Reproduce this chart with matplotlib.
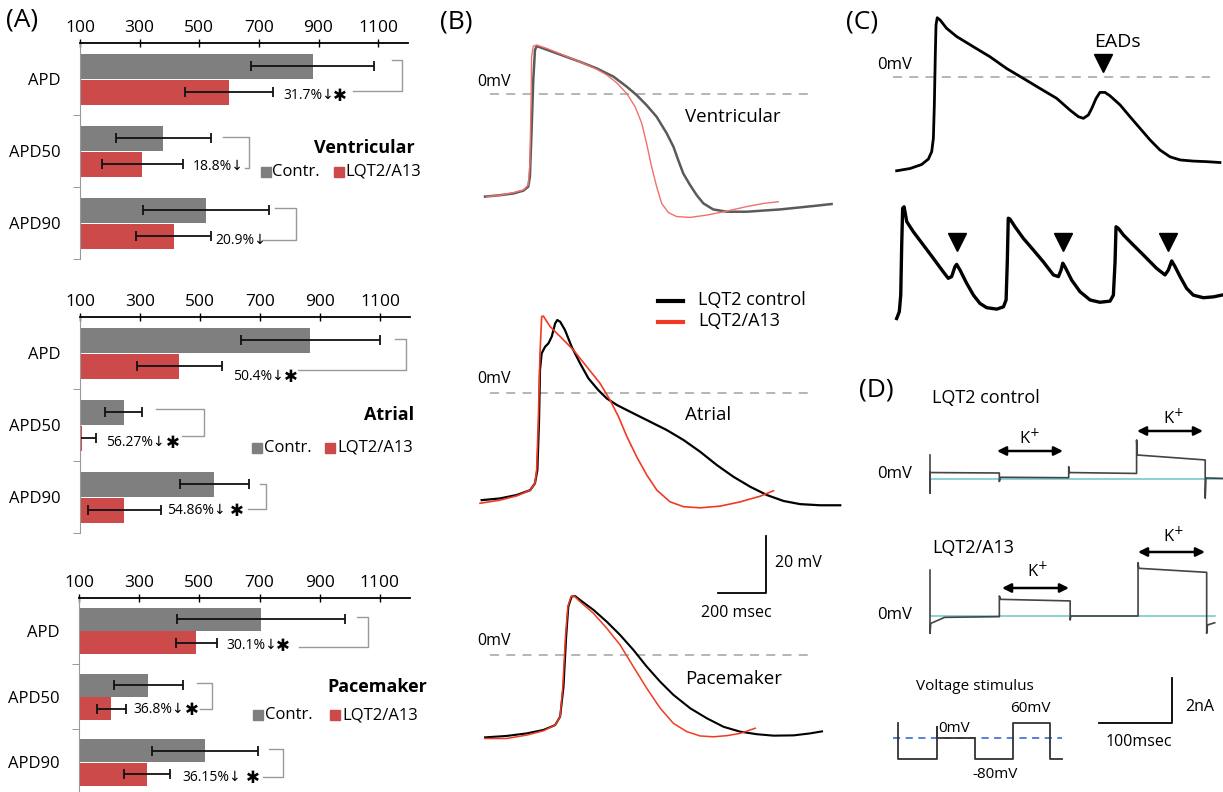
import matplotlib
matplotlib.use('Agg')
import matplotlib.pyplot as plt
import numpy as np

# ---------------- data ----------------
categories = ['APD', 'APD50', 'APD90']
x_ticks = [100, 300, 500, 700, 900, 1100]

vent_ctrl = [880, 380, 523]
vent_ctrl_err = [205, 160, 212]
vent_a13 = [600, 309, 414]
vent_a13_err = [148, 135, 127]
vent_pct = ['31.7%↓', '18.8%↓', '20.9%↓']
vent_sig = [True, False, False]

atr_ctrl = [868, 245, 548]
atr_ctrl_err = [233, 63, 116]
atr_a13 = [431, 107, 248]
atr_a13_err = [141, 46, 122]
atr_pct = ['50.4%↓', '56.27%↓', '54.86%↓']
atr_sig = [True, True, True]

pace_ctrl = [705, 330, 519]
pace_ctrl_err = [280, 115, 177]
pace_a13 = [490, 208, 326]
pace_a13_err = [68, 48, 78]
pace_pct = ['30.1%↓', '36.8%↓', '36.15%↓']
pace_sig = [True, True, True]

# Panel B action potentials (time ms, voltage mV relative to 0 mV line)
vent_ctrl_t = [21, 83, 139, 181, 201, 208, 215, 222, 229, 236, 250, 319, 417, 486, 556, 611, 653, 694, 736, 778, 806, 826, 847, 875, 903, 931, 972, 1028, 1111, 1250, 1389, 1465]
vent_ctrl_v = [-35.9, -35.4, -34.8, -33.8, -32.4, -28.9, -12.5, 5.0, 15.5, 16.9, 16.5, 14.4, 11.4, 9.1, 6.2, 2.7, -0.3, -3.8, -7.9, -13.7, -18.4, -23.1, -27.8, -31.8, -35.4, -38.3, -40.4, -41.2, -41.2, -40.4, -39.2, -38.5]
vent_a13_t = [28, 83, 139, 181, 201, 208, 213, 215, 222, 236, 278, 347, 417, 486, 528, 569, 611, 646, 674, 694, 715, 736, 757, 785, 819, 875, 944, 1028, 1111, 1181, 1243]
vent_a13_v = [-35.9, -35.4, -34.5, -33.6, -31.8, -24.2, -0.8, 13.2, 16.9, 17.3, 16.1, 13.8, 11.4, 8.8, 6.8, 4.1, 0.3, -4.3, -10.2, -17.2, -25.4, -32.4, -38.3, -41.5, -42.9, -43.2, -42.4, -41.0, -39.4, -38.3, -37.7]

atr_ctrl_t = [7, 83, 153, 209, 229, 239, 246, 250, 257, 271, 285, 299, 313, 322, 334, 354, 382, 417, 452, 493, 528, 570, 626, 695, 778, 848, 917, 987, 1056, 1126, 1195, 1265, 1334, 1418, 1501]
atr_ctrl_v = [-37.7, -37.1, -35.9, -34.2, -31.8, -27.1, -9.6, 8.0, 13.8, 16.1, 17.3, 19.7, 24.3, 25.5, 24.9, 22.0, 16.1, 10.3, 5.0, 0.9, -2.0, -4.3, -6.7, -9.6, -13.1, -16.6, -20.7, -25.4, -29.5, -33.0, -35.9, -38.0, -39.1, -39.5, -39.5]
atr_a13_t = [0, 83, 153, 209, 229, 236, 243, 250, 257, 264, 292, 334, 389, 445, 500, 542, 577, 612, 653, 695, 737, 792, 848, 917, 1001, 1084, 1168, 1223]
atr_a13_v = [-38.8, -37.7, -36.2, -34.2, -31.8, -27.1, -9.6, 13.8, 26.7, 26.9, 23.2, 19.7, 15.0, 9.1, 3.3, -2.6, -8.4, -15.4, -22.5, -28.9, -34.2, -38.3, -40.0, -40.4, -39.8, -38.3, -36.3, -34.4]

pace_ctrl_t = [21, 111, 195, 264, 313, 334, 348, 359, 368, 382, 396, 417, 473, 528, 584, 639, 695, 751, 806, 876, 945, 1015, 1084, 1154, 1223, 1307, 1376, 1425]
pace_ctrl_v = [-28.9, -28.4, -27.5, -26.3, -24.6, -21.6, -11.1, 6.4, 17.0, 20.5, 20.7, 19.3, 15.8, 11.7, 7.0, 1.8, -4.1, -9.4, -14.0, -18.7, -22.2, -25.2, -26.9, -27.8, -28.3, -28.2, -27.5, -26.8]
pace_a13_t = [21, 111, 195, 264, 313, 334, 345, 356, 366, 379, 392, 417, 473, 528, 584, 639, 695, 751, 806, 862, 917, 973, 1029, 1084, 1147]
pace_a13_v = [-29.3, -29.3, -28.1, -26.6, -24.6, -21.6, -11.1, 6.4, 17.0, 20.5, 20.7, 18.7, 14.6, 9.4, 3.5, -4.1, -11.7, -18.7, -24.0, -26.9, -28.4, -28.7, -28.3, -27.5, -25.7]

# Panel C EAD traces
ead1_t = [14, 70, 118, 146, 160, 167, 171, 175, 178, 183, 195, 222, 264, 334, 403, 472, 542, 611, 681, 736, 771, 792, 813, 827, 845, 861, 882, 903, 945, 986, 1028, 1070, 1111, 1153, 1195, 1250, 1306, 1361]
ead1_v = [-32.8, -32.0, -30.6, -28.7, -26.1, -21.4, -9.7, 7.8, 18.4, 20.9, 20.1, 17.2, 14.3, 10.7, 7.2, 3.1, -0.4, -3.9, -7.4, -11.5, -13.8, -14.4, -13.2, -10.9, -7.4, -5.3, -5.3, -6.5, -9.7, -13.8, -17.9, -22.0, -25.5, -27.9, -29.0, -29.4, -29.6, -29.9]
ead1_marks_t = [875]
ead1_marks_v = [4.9]

ead2_t = [14, 25, 31, 35, 39, 45, 56, 83, 125, 167, 208, 229, 243, 257, 264, 278, 306, 334, 361, 389, 431, 459, 470, 475, 479, 486, 507, 542, 584, 625, 667, 688, 699, 706, 715, 743, 778, 820, 861, 903, 917, 924, 928, 938, 959, 1000, 1042, 1097, 1132, 1146, 1160, 1174, 1195, 1222, 1250, 1292, 1334, 1368]
ead2_v = [-29.9, -27.5, -21.7, -4.1, 8.8, 9.3, 4.1, 0.6, -4.1, -8.8, -13.5, -15.8, -15.2, -11.7, -10.9, -12.9, -17.6, -21.7, -24.6, -26.1, -26.6, -25.8, -23.4, -10.0, 5.3, 5.0, 2.3, -1.8, -5.9, -10.0, -14.6, -15.2, -12.9, -10.5, -11.7, -16.4, -20.5, -23.4, -24.2, -23.8, -21.7, -10.0, 2.3, 1.7, -0.6, -4.1, -7.6, -12.3, -14.6, -12.9, -9.7, -11.7, -15.2, -19.3, -21.7, -22.6, -22.3, -21.7]
ead2_marks_t = [264, 708, 1146]
ead2_marks_v = [-2.9, -2.9, -2.9]

# Panel D currents (ms, nA)
ctrl_cur_t = [0, 0, 0, 1, 95, 95, 96, 97, 190, 190, 191, 283, 283, 284, 377, 377, 378, 402]
ctrl_cur_i = [1.08, -0.62, 0.30, 0.30, 0.28, -0.10, 0.06, 0.09, 0.07, 0.56, 0.30, 0.26, 1.75, 1.08, 0.86, -0.84, 0.06, 0.04]
a13_cur_t = [0, 0, 1, 20, 95, 95, 96, 97, 192, 192, 193, 285, 285, 286, 379, 379, 380, 390]
a13_cur_i = [2.04, -0.77, -0.33, -0.06, -0.03, 0.89, 0.80, 0.74, 0.67, -0.18, 0.0, 0.0, 2.37, 2.12, 1.94, -0.77, -0.40, -0.30]
stim_t = [0, 0, 52.5, 52.5, 52.5, 105, 105, 157, 157, 208, 208, 224]
stim_v = [60, -80, -80, 45, 0, 0, -80, -80, 60, 60, -80, -80]

# ---------------- figure ----------------
W, H = 1223, 792
plt.rcParams['font.family'] = ['Open Sans', 'DejaVu Sans']
fig = plt.figure(figsize=(W / 100, H / 100), dpi=100)

GREY = '#7f7f7f'
RED = '#cd4a4a'


def box(x0, y0, x1, y1):
    return [x0 / W, 1 - y1 / H, (x1 - x0) / W, (y1 - y0) / H]


ov = fig.add_axes([0, 0, 1, 1])
ov.set_xlim(0, W)
ov.set_ylim(H, 0)
ov.axis('off')


def bar_panel(rect, ctrl, ctrl_err, a13, a13_err):
    ax = fig.add_axes(box(*rect))
    ax.patch.set_alpha(0)
    y = np.arange(len(categories))
    h = 0.35
    ekw = dict(ecolor='#111111', elinewidth=1.3, capsize=3.5, capthick=1.3)
    ax.barh(y - 0.175, ctrl, height=h, color=GREY, xerr=ctrl_err, error_kw=ekw)
    ax.barh(y + 0.185, a13, height=h, color=RED, xerr=a13_err, error_kw=ekw)
    ax.set_xlim(100, 1200)
    ax.set_ylim(2.5, -0.5)
    ax.xaxis.tick_top()
    ax.set_xticks(x_ticks)
    ax.tick_params(axis='x', direction='inout', length=6, width=1, pad=2, labelsize=12.5)
    ax.set_yticks(y)
    ax.set_yticklabels(categories)
    ax.set_yticks([0.5, 1.5, 2.5], minor=True)
    ax.tick_params(axis='y', which='major', length=0, pad=14, labelsize=12)
    ax.tick_params(axis='y', which='minor', length=5, color='#888888', direction='out')
    for s in ['right', 'bottom']:
        ax.spines[s].set_visible(False)
    ax.spines['top'].set_linewidth(1.3)
    ax.spines['left'].set_color('#999999')
    return ax


bar_panel((80, 43, 408, 259), vent_ctrl, vent_ctrl_err, vent_a13, vent_a13_err)
bar_panel((80, 317, 410, 533), atr_ctrl, atr_ctrl_err, atr_a13, atr_a13_err)
bar_panel((79, 598, 410, 795), pace_ctrl, pace_ctrl_err, pace_a13, pace_a13_err)

# annotations panel A (pixel layout)
ann = [
    (vent_pct, vent_sig, [(283, 95, 340), (193, 166, 0), (215, 240, 0)],
     [(392, 60, 402, 91, 353), (223, 137, 249, 168, 245), (275, 208, 296, 240, 262)]),
    (atr_pct, atr_sig, [(233, 376, 291), (106, 442, 173), (167, 510, 237)],
     [(395, 339, 406, 370, 298), (156, 409, 204, 436, 182), (260, 484, 266, 509, 248)]),
    (pace_pct, pace_sig, [(226, 645, 283), (133, 709, 192), (182, 777, 253)],
     [(357, 617, 368, 647, 299), (197, 683, 212, 709, 200), (269, 749, 283, 777, 263)]),
]
for pcts, sigs, tpos, brs in ann:
    for p, s, (tx, ty, ax_), (xa, ya, xv, yb, xb) in zip(pcts, sigs, tpos, brs):
        ov.text(tx, ty, p, fontsize=10, va='center', ha='left')
        if s:
            ov.text(ax_, ty + 1, '✱', fontsize=12, va='center', ha='center',
                    family=['DejaVu Sans'])
        ov.plot([xa, xv, xv, xb], [ya, ya, yb, yb], color='#999999', lw=1)

legends = [('Ventricular', 415, 148, 172, 266, 272, 339, 345),
           ('Atrial', 414, 415, 448, 257, 264, 330, 337),
           ('Pacemaker', 427, 687, 715, 258, 265, 335, 342)]
for title, tr, ty, ly, gs, gt, rs, rt in legends:
    ov.text(tr, ty, title, fontsize=13, fontweight='bold', ha='right', va='center')
    ov.plot([gs], [ly], marker='s', ms=7, color=GREY)
    ov.text(gt, ly, 'Contr.', fontsize=12, va='center', ha='left')
    ov.plot([rs], [ly], marker='s', ms=7, color=RED)
    ov.text(rt, ly, 'LQT2/A13', fontsize=12, va='center', ha='left')


def trace_axes(x0, y0, x1, y1, ox, oy, sx, sy):
    ax = fig.add_axes(box(x0, y0, x1, y1))
    ax.set_xlim((x0 - ox) / sx, (x1 - ox) / sx)
    ax.set_ylim((oy - y1) / sy, (oy - y0) / sy)
    ax.axis('off')
    return ax


# ---------------- Panel B ----------------
SXB, SYB = 0.24, 2.85
dash_kw = dict(color='#b0b0b0', lw=1.3, ls=(0, (5, 4)))
axv = trace_axes(470, 30, 845, 250, 480, 94.3, SXB, SYB)
axv.plot([42, 1367], [0, 0], **dash_kw)
axv.plot(vent_ctrl_t, vent_ctrl_v, color='#5a5a5a', lw=1.8, solid_joinstyle='round')
axv.plot(vent_a13_t, vent_a13_v, color='#f07070', lw=1.0, solid_joinstyle='round')

axa = trace_axes(470, 280, 845, 540, 480, 392.7, SXB, SYB)
axa.plot([42, 1367], [0, 0], **dash_kw)
axa.plot(atr_ctrl_t, atr_ctrl_v, color='black', lw=1.6, solid_joinstyle='round')
axa.plot(atr_a13_t, atr_a13_v, color='#f03a24', lw=1.2, solid_joinstyle='round')

axp = trace_axes(470, 580, 845, 792, 480, 655, SXB, SYB)
axp.plot([42, 1367], [0, 0], **dash_kw)
axp.plot(pace_ctrl_t, pace_ctrl_v, color='black', lw=1.5, solid_joinstyle='round')
axp.plot(pace_a13_t, pace_a13_v, color='#f03a24', lw=1.1, solid_joinstyle='round')

ov.text(477, 82, '0mV', fontsize=11.5, va='center')
ov.text(477, 379, '0mV', fontsize=11.5, va='center')
ov.text(477, 641, '0mV', fontsize=11.5, va='center')
ov.text(685, 117, 'Ventricular', fontsize=13.5, va='center')
ov.text(685, 415, 'Atrial', fontsize=13.5, va='center')
ov.text(685, 679, 'Pacemaker', fontsize=13.5, va='center')
ov.plot([658, 683], [301, 301], color='black', lw=3)
ov.plot([658, 683], [322, 322], color='#f03a24', lw=3)
ov.text(698, 300, 'LQT2 control', fontsize=13, va='center')
ov.text(698, 321, 'LQT2/A13', fontsize=13, va='center')
ov.plot([718, 766, 766], [593, 593, 536], color='black', lw=1.3)
ov.text(775, 563, '20 mV', fontsize=11.5, va='center')
ov.text(736, 613, '200 msec', fontsize=11.5, va='center', ha='center')

# ---------------- Panel C ----------------
axc1 = trace_axes(880, 8, 1223, 178, 893.3, 77.3, SXB, SYB)
axc1.plot([0, 1318], [0, 0], color='#b0b0b0', lw=1.3, ls=(0, (5, 4)))
axc1.plot(ead1_t, ead1_v, color='black', lw=2.0, solid_joinstyle='round')
axc1.plot(ead1_marks_t, ead1_marks_v, ls='none', marker='v', ms=13, color='black')

axc2 = trace_axes(880, 190, 1223, 330, 893.3, 233.3, SXB, SYB)
axc2.plot(ead2_t, ead2_v, color='black', lw=2.4, solid_joinstyle='round')
axc2.plot(ead2_marks_t, ead2_marks_v, ls='none', marker='v', ms=13, color='black')

ov.text(877, 65, '0mV', fontsize=12, va='center')
ov.text(1117, 42, 'EADs', fontsize=14, va='center', ha='center')

# ---------------- Panel D ----------------
SXD, SYD = 0.73, 22.5
axd1 = trace_axes(920, 425, 1223, 512, 930, 479.3, SXD, SYD)
axd1.plot([0, 402], [0, 0], color='#6cc5cc', lw=1.1)
axd1.plot(ctrl_cur_t, ctrl_cur_i, color='#444444', lw=1.2)

axd2 = trace_axes(920, 555, 1223, 645, 930, 616, SXD, SYD)
axd2.plot([0, 390], [0, 0], color='#6cc5cc', lw=1.1)
axd2.plot(a13_cur_t, a13_cur_i, color='#444444', lw=1.2)

axs = trace_axes(880, 690, 1075, 790, 898.3, 738.3, SXD, 0.26)
axs.plot([-7, 224], [0, 0], color='#4a78d0', lw=1.3, ls=(0, (4, 3)))
axs.plot(stim_t, stim_v, color='#333333', lw=1.3)

ov.text(932, 398, 'LQT2 control', fontsize=13, va='center')
ov.text(877, 474, '0mV', fontsize=12, va='center')
ov.text(932, 548, 'LQT2/A13', fontsize=13, va='center')
ov.text(877, 615, '0mV', fontsize=12, va='center')
arrow_kw = dict(arrowstyle='<|-|>', color='black', lw=1.8, mutation_scale=13, shrinkA=0, shrinkB=0)
for (xa, xb, ya), (kx, ky) in [((997, 1063, 451), (1029, 438)), ((1137, 1203, 431), (1173, 418)),
                               ((1002, 1069, 588), (1037, 571)), ((1138, 1205, 552), (1173, 536))]:
    ov.annotate('', xy=(xb, ya), xytext=(xa, ya), arrowprops=arrow_kw)
    ov.text(kx, ky, 'K$^{+}$', fontsize=12, ha='center', va='center')

ov.text(975, 687, 'Voltage stimulus', fontsize=11, ha='center', va='center')
ov.text(938, 729, '0mV', fontsize=11, va='center')
ov.text(1010, 709, '60mV', fontsize=11, va='center')
ov.text(972, 775, '-80mV', fontsize=11, va='center')
ov.plot([1099, 1172, 1172], [723, 723, 678], color='black', lw=1.3)
ov.text(1185, 707, '2nA', fontsize=11.5, va='center')
ov.text(1139, 742, '100msec', fontsize=11.5, va='center', ha='center')

# panel letters
ov.text(22, 20, '(A)', fontsize=19, ha='center', va='center')
ov.text(456, 22, '(B)', fontsize=19, ha='center', va='center')
ov.text(862, 22, '(C)', fontsize=19, ha='center', va='center')
ov.text(876, 390, '(D)', fontsize=19, ha='center', va='center')

fig.savefig('out.png', dpi=100)
